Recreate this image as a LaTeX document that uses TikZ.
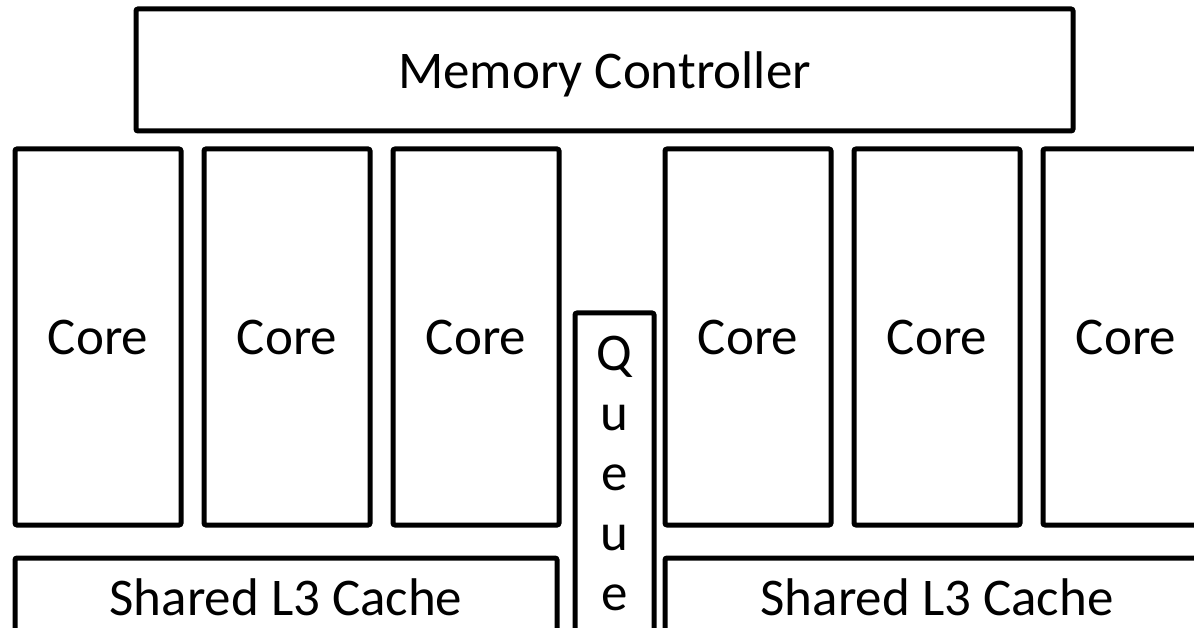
\documentclass[tikz,border=0pt]{standalone}
\usepackage{fontspec}
\setmainfont{Carlito}
\tikzset{
  blk/.style={draw, line width=5pt, rounded corners=2pt, inner sep=0pt, font=\fontsize{53}{60}\selectfont},
}
\begin{document}
\begin{tikzpicture}[x=1pt, y=-1pt]
\useasboundingbox (0,0) rectangle (1194,628);
\clip (0,0) rectangle (1194,628);
\fill[white] (0,0) rectangle (1194,628);
% memory controller across the top
\node[blk, minimum width=937pt, minimum height=122pt] (mc) at (604.5,70) {};
\node[font=\fontsize{53}{60}\selectfont, anchor=base] (mctext) at (604.5,89) {Memory Controller};
% cores, three on each side of the queue
\foreach \i/\cx in {1/98, 2/287, 3/476, 4/748, 5/937, 6/1126} {
  \node[blk, minimum width=166pt, minimum height=376pt] (core\i) at (\cx,337) {Core};
}
% queue between the two core groups
\node[blk, minimum width=79pt, minimum height=400pt] (queue) at (614.5,513) {};
\node[font=\fontsize{53}{60}\selectfont, align=center, anchor=north, inner sep=0pt] (qtext) at (614.5,336) {Q\\u\\e\\u\\e};
% shared L3 caches along the bottom
\node[blk, minimum width=542pt, minimum height=78pt] (l3a) at (286,597) {Shared L3 Cache};
\node[blk, minimum width=544pt, minimum height=78pt] (l3b) at (937,597) {Shared L3 Cache};
\end{tikzpicture}
\end{document}
